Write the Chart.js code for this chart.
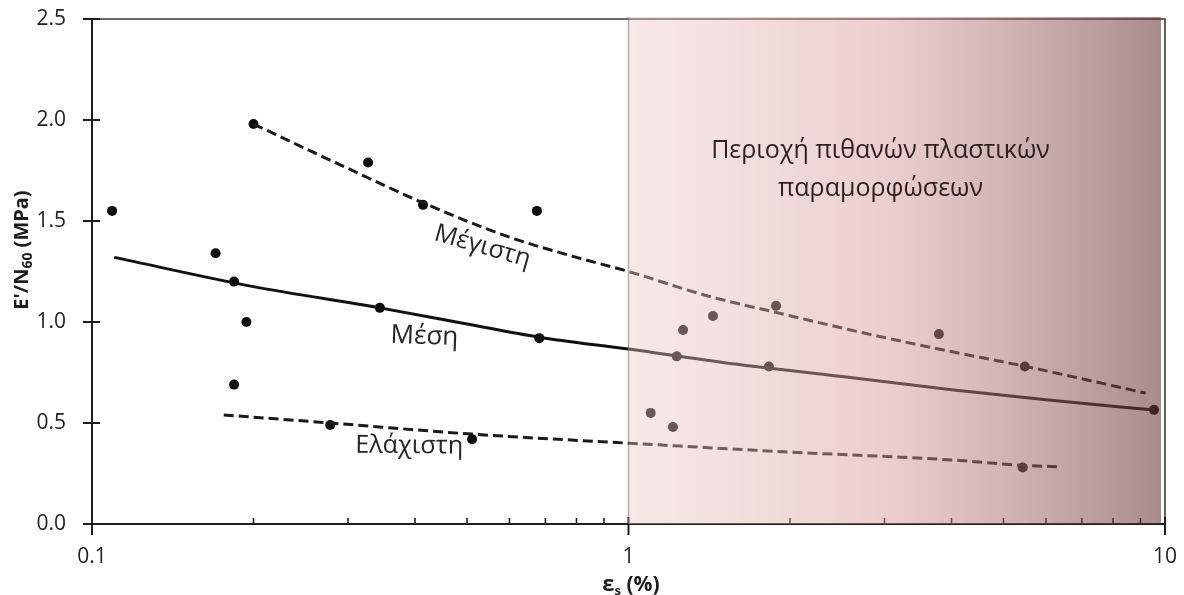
<!DOCTYPE html>
<html><head><meta charset="utf-8">
<script src="https://cdn.jsdelivr.net/npm/chart.js@4/dist/chart.umd.min.js"></script>
<style>html,body{margin:0;padding:0;background:#fff}#wrap{width:1184px;height:595px}</style>
</head><body><div id="wrap"><canvas id="c" width="1184" height="595"></canvas></div>
<script>
// ---- data ----
const pointStrain = [0.109, 0.170, 0.184, 0.194, 0.184, 0.200, 0.327, 0.414, 0.675, 0.344, 0.682, 0.278, 0.511,
                     1.10, 1.21, 1.264, 1.23, 1.437, 1.884, 1.827, 3.79, 5.48, 9.54, 5.43];
const pointRatio  = [1.55, 1.34, 1.20, 1.00, 0.69, 1.98, 1.79, 1.58, 1.55, 1.07, 0.92, 0.49, 0.42,
                     0.55, 0.48, 0.96, 0.83, 1.03, 1.08, 0.78, 0.94, 0.78, 0.565, 0.28];
const maxStrain  = [0.2, 0.3, 0.414, 0.6, 0.8, 1.0, 1.4, 1.9, 2.7, 3.8, 5.5, 9.2];
const maxRatio   = [1.98, 1.76, 1.59, 1.42, 1.32, 1.25, 1.13, 1.045, 0.95, 0.865, 0.78, 0.648];
const meanStrain = [0.11, 0.2, 0.344, 0.5, 0.68, 1.0, 1.5, 2.5, 4.0, 6.0, 9.54];
const meanRatio  = [1.32, 1.175, 1.07, 0.99, 0.925, 0.866, 0.80, 0.73, 0.665, 0.615, 0.564];
const minStrain  = [0.176, 0.278, 0.511, 1.0, 2.0, 4.0, 5.43, 6.43];
const minRatio   = [0.54, 0.50, 0.445, 0.40, 0.356, 0.317, 0.29, 0.283];
const xTickValues = [0.1, 1, 10];
const xMinorValues = [0.2,0.3,0.4,0.5,0.6,0.7,0.8,0.9,2,3,4,5,6,7,8,9];
const yTickValues = [0, 0.5, 1.0, 1.5, 2.0, 2.5];
const zoneStrain = [1, 9.83];
const zoneText = ['Περιοχή πιθανών πλαστικών', 'παραμορφώσεων'];
const curveNames = ['Μέγιστη', 'Μέση', 'Ελάχιστη'];

const FONT = "'Open Sans', 'Noto Sans', sans-serif";
const pairs = (xs, ys) => xs.map((v, i) => ({x: v, y: ys[i]}));

function fitSize(ctx, text, weight, target) {
  ctx.font = weight + ' 20px ' + FONT;
  return 20 * target / ctx.measureText(text).width;
}
function drawRich(ctx, parts, cx, baseY, angle) {
  ctx.save();
  let total = 0;
  parts.forEach(p => { ctx.font = 'bold ' + p.size + 'px ' + FONT; p.w = ctx.measureText(p.t).width; total += p.w; });
  ctx.translate(cx, baseY);
  ctx.rotate(angle);
  let x = -total / 2;
  ctx.textBaseline = 'alphabetic';
  ctx.textAlign = 'left';
  parts.forEach(p => { ctx.font = 'bold ' + p.size + 'px ' + FONT; ctx.fillText(p.t, x, p.dy || 0); x += p.w; });
  ctx.restore();
}

const deco = {
  id: 'deco',
  afterDatasetsDraw(chart) {
    const {ctx, chartArea: a, scales: {x, y}} = chart;
    ctx.save();
    ctx.strokeStyle = '#3a3a3a'; ctx.lineWidth = 1.6;
    ctx.beginPath(); ctx.moveTo(a.left, a.top); ctx.lineTo(a.right, a.top); ctx.lineTo(a.right, a.bottom); ctx.stroke();
    ctx.strokeStyle = '#1e1e1e'; ctx.lineWidth = 2;
    ctx.beginPath(); ctx.moveTo(a.left, a.top); ctx.lineTo(a.left, a.bottom + 11); ctx.stroke();
    ctx.beginPath(); ctx.moveTo(a.left - 9, a.bottom); ctx.lineTo(a.right, a.bottom); ctx.stroke();
    yTickValues.forEach(v => { const py = y.getPixelForValue(v); ctx.beginPath(); ctx.moveTo(a.left - 9, py); ctx.lineTo(a.left + 8, py); ctx.stroke(); });
    xTickValues.forEach(v => { const px = x.getPixelForValue(v); ctx.beginPath(); ctx.moveTo(px, a.bottom - 7); ctx.lineTo(px, a.bottom + 11); ctx.stroke(); });
    ctx.lineWidth = 1.6;
    xMinorValues.forEach(v => { const px = x.getPixelForValue(v); ctx.beginPath(); ctx.moveTo(px, a.bottom - 6); ctx.lineTo(px, a.bottom); ctx.stroke(); });
    const x0 = x.getPixelForValue(zoneStrain[0]), x1 = x.getPixelForValue(zoneStrain[1]);
    const g = ctx.createLinearGradient(x0, 0, x1, 0);
    g.addColorStop(0, 'rgba(236,200,200,0.40)');
    g.addColorStop(0.5, 'rgba(214,150,150,0.48)');
    g.addColorStop(1, 'rgba(100,50,50,0.56)');
    ctx.fillStyle = g;
    ctx.fillRect(x0, a.top - 2, x1 - x0, a.bottom - a.top + 2);
    ctx.strokeStyle = 'rgba(110,80,80,0.45)'; ctx.lineWidth = 1.5;
    ctx.beginPath(); ctx.moveTo(x0, a.top - 2); ctx.lineTo(x0, a.bottom); ctx.stroke();
    ctx.restore();
  },
  afterDraw(chart) {
    const {ctx, scales: {x, y}} = chart;
    ctx.save();
    ctx.fillStyle = '#2b1f22';
    ctx.textAlign = 'center'; ctx.textBaseline = 'alphabetic';
    const zs = fitSize(ctx, zoneText[0], 'normal', 339);
    ctx.font = zs + 'px ' + FONT;
    const zx = (x.getPixelForValue(2.9) + x.getPixelForValue(3.0)) / 2;
    ctx.fillText(zoneText[0], zx, y.getPixelForValue(1.81));
    ctx.fillText(zoneText[1], zx, y.getPixelForValue(1.625));
    ctx.fillStyle = '#262626';
    const names = [
      {t: curveNames[0], v: [0.53, 1.34], w: 99, r: 16},
      {t: curveNames[1], v: [0.416, 0.892], w: 68, r: 2},
      {t: curveNames[2], v: [0.39, 0.351], w: 108, r: 0.5}
    ];
    names.forEach(n => {
      const s = fitSize(ctx, n.t, 'normal', n.w);
      ctx.save();
      ctx.translate(x.getPixelForValue(n.v[0]), y.getPixelForValue(n.v[1]));
      ctx.rotate(n.r * Math.PI / 180);
      ctx.font = s + 'px ' + FONT;
      ctx.fillText(n.t, 0, 0);
      ctx.restore();
    });
    ctx.fillStyle = '#1c1c1c';
    drawRich(ctx, [{t: 'ε', size: 22}, {t: 's', size: 13, dy: 4}, {t: ' (%)', size: 21}], 631, 591, 0);
    drawRich(ctx, [{t: "E'/N", size: 20}, {t: '60', size: 14, dy: 4}, {t: ' (MPa)', size: 20}], 28, 250, -Math.PI / 2);
    ctx.restore();
  }
};

new Chart(document.getElementById('c').getContext('2d'), {
  type: 'scatter',
  data: {
    datasets: [
      {data: pairs(maxStrain, maxRatio), showLine: true, borderColor: '#1a1a1a', borderWidth: 3, borderDash: [10, 5], pointRadius: 0, cubicInterpolationMode: 'monotone'},
      {data: pairs(meanStrain, meanRatio), showLine: true, borderColor: '#111', borderWidth: 3, pointRadius: 0, cubicInterpolationMode: 'monotone'},
      {data: pairs(minStrain, minRatio), showLine: true, borderColor: '#1a1a1a', borderWidth: 3, borderDash: [10, 5], pointRadius: 0, cubicInterpolationMode: 'monotone'},
      {data: pairs(pointStrain, pointRatio), showLine: false, pointRadius: 5, pointBackgroundColor: '#0d0d0d', pointBorderWidth: 0}
    ]
  },
  options: {
    responsive: false, animation: false, devicePixelRatio: 1,
    layout: {padding: {top: 19, right: 19, left: 0, bottom: 0}},
    plugins: {legend: {display: false}, tooltip: {enabled: false}},
    scales: {
      x: {
        type: 'logarithmic', min: 0.1, max: 10,
        afterBuildTicks: s => { s.ticks = xTickValues.map(v => ({value: v, major: true})); },
        afterFit: s => { s.height = 71; s.paddingLeft = 0; s.paddingRight = 0; },
        ticks: {callback: v => String(v), font: {family: FONT, size: 21}, color: '#222', padding: 20, maxRotation: 0, autoSkip: false},
        grid: {display: false, drawTicks: false}, border: {display: false}
      },
      y: {
        min: 0, max: 2.5,
        afterBuildTicks: s => { s.ticks = yTickValues.map(v => ({value: v})); },
        afterFit: s => { s.width = 92; s.paddingTop = 0; s.paddingBottom = 0; },
        ticks: {callback: v => Number(v).toFixed(1), font: {family: FONT, size: 21}, color: '#222', padding: 26},
        grid: {display: false, drawTicks: false}, border: {display: false}
      }
    }
  },
  plugins: [deco]
});
</script></body></html>
